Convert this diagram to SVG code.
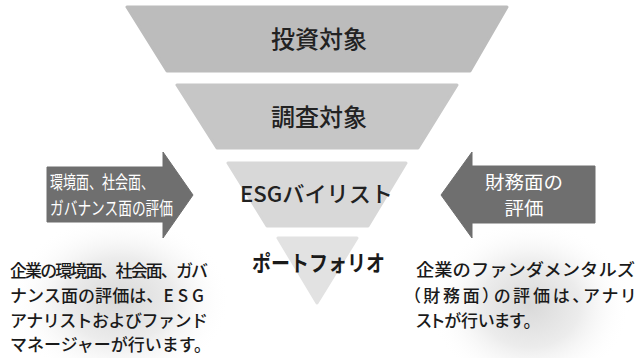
<svg xmlns="http://www.w3.org/2000/svg" width="636" height="358" viewBox="0 0 636 358">
<style>
.jp{font-family:"Noto Sans CJK JP","Noto Sans CJK SC",sans-serif;}
.title{font-size:24px;font-weight:500;fill:#222;text-anchor:middle;}
.arrow{fill:#6f6f6f;stroke:#6f6f6f;stroke-width:1;stroke-linejoin:round;}
.atext{font-size:18px;fill:#fff;}
.note{font-size:17px;fill:#1a1a1a;font-weight:500;}
.funnel{stroke-linejoin:round;stroke-width:3;}
</style>
<defs>
<radialGradient id="glowL" cx="0.5" cy="0.5" r="0.5">
<stop offset="0" stop-color="#d9d9d9"/>
<stop offset="0.5" stop-color="#ececec"/>
<stop offset="1" stop-color="#ffffff" stop-opacity="0"/>
</radialGradient>
</defs>
<rect width="636" height="358" fill="#ffffff"/>
<g id="background">
<ellipse cx="120" cy="300" rx="110" ry="85" fill="url(#glowL)"/>
<ellipse cx="530" cy="305" rx="100" ry="85" fill="url(#glowL)"/>
</g>
<g id="node-invest">
<polygon class="funnel" points="127,7 507,7 470,71 167,71" fill="#bcbcbc" stroke="#bcbcbc"/>
<text class="jp title" x="319" y="48">投資対象</text>
</g>
<g id="node-research">
<polygon class="funnel" points="177,85 457,85 418,148 217,148" fill="#c6c6c6" stroke="#c6c6c6"/>
<text class="jp title" x="319" y="126">調査対象</text>
</g>
<g id="node-esg">
<polygon class="funnel" points="228,163 406,163 368,226 267,226" fill="#d8d8d8" stroke="#d8d8d8"/>
<text class="jp" x="240" y="202" font-size="22" font-weight="500" fill="#222" textLength="153" lengthAdjust="spacingAndGlyphs">ESGバイリスト</text>
</g>
<g id="node-portfolio">
<polygon class="funnel" points="278,238 357,238 317,303" fill="#e2e2e2" stroke="#e2e2e2"/>
<text class="jp" x="252" y="271" font-size="22" font-weight="700" fill="#1a1a1a" textLength="133" lengthAdjust="spacingAndGlyphs">ポートフォリオ</text>
</g>
<g id="connectors">
<g id="arrow-left">
<polygon class="arrow" points="47,167 163,167 163,152 193,195 163,238 163,222 47,222"/>
<text class="jp atext" x="50" y="189" textLength="104" lengthAdjust="spacingAndGlyphs">環境面、社会面、</text>
<text class="jp atext" x="50" y="215" textLength="123" lengthAdjust="spacingAndGlyphs">ガバナンス面の評価</text>
</g>
<g id="arrow-right">
<polygon class="arrow" points="595,166 472,166 472,152 441,195 472,238 472,223 595,223"/>
<text class="jp atext" x="524" y="189" font-size="19" text-anchor="middle" textLength="78" lengthAdjust="spacingAndGlyphs">財務面の</text>
<text class="jp atext" x="524" y="215" font-size="19" text-anchor="middle" textLength="39" lengthAdjust="spacingAndGlyphs">評価</text>
</g>
</g>
<g id="note-left">
<text class="jp note" x="10" y="277" textLength="198" lengthAdjust="spacing">企業の環境面、社会面、ガバ</text>
<text class="jp note" x="10" y="302" textLength="198" lengthAdjust="spacing">ナンス面の評価は、<tspan letter-spacing="4">ESG</tspan></text>
<text class="jp note" x="10" y="327" textLength="198" lengthAdjust="spacing">アナリストおよびファンド</text>
<text class="jp note" x="10" y="351">マネージャーが行います。</text>
</g>
<g id="note-right">
<text class="jp note" x="416" y="276" font-size="18" textLength="219" lengthAdjust="spacingAndGlyphs">企業のファンダメンタルズ</text>
<text class="jp note" x="412" y="302" font-size="18" textLength="223" lengthAdjust="spacing" style="font-feature-settings:'palt'">（財務面）の評価は、アナリ</text>
<text class="jp note" x="416" y="327" font-size="18" style="font-feature-settings:'palt'">ストが行います。</text>
</g>
</svg>
